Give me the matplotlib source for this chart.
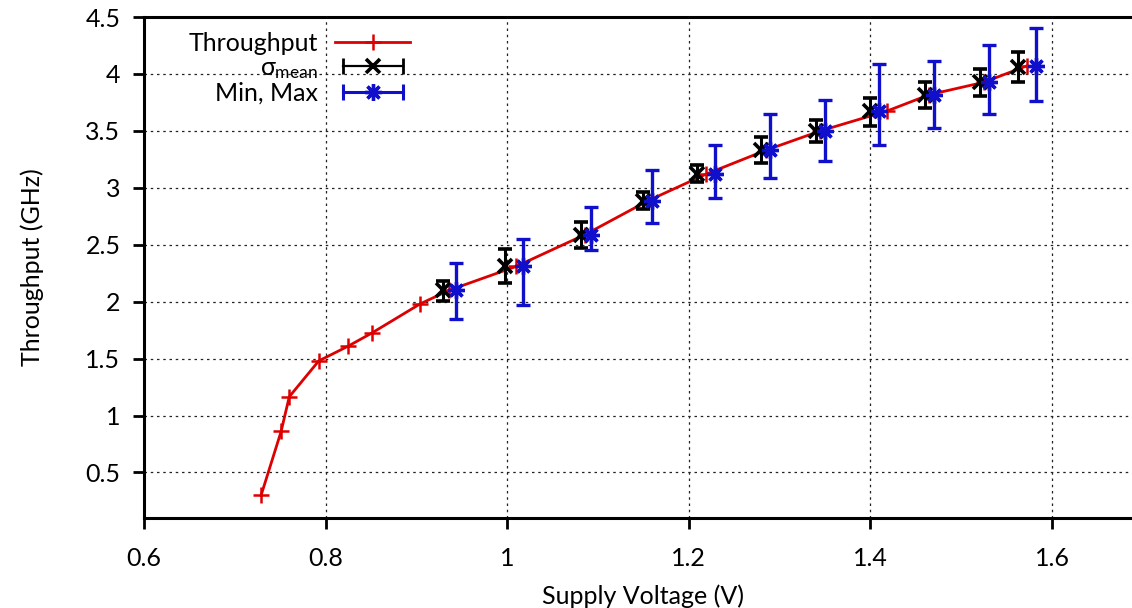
import matplotlib
matplotlib.use("Agg")
import matplotlib.pyplot as plt
from matplotlib.lines import Line2D
from matplotlib.legend_handler import HandlerLine2D, HandlerTuple
from matplotlib.ticker import FuncFormatter

plt.rcParams["font.family"] = ["Lato", "DejaVu Sans"]
plt.rcParams["mathtext.fontset"] = "custom"
plt.rcParams["mathtext.rm"] = "Lato"
plt.rcParams["mathtext.it"] = "Lato"

# red curve: supply voltage (V) vs throughput (GHz)
volt = [0.729, 0.751, 0.760, 0.7925, 0.825, 0.851, 0.904, 0.936, 1.010, 1.086,
        1.155, 1.219, 1.285, 1.345, 1.4185, 1.465, 1.525, 1.572]
thru = [0.30, 0.86, 1.165, 1.48, 1.61, 1.725, 1.98, 2.10, 2.31, 2.59,
        2.886, 3.12, 3.33, 3.50, 3.675, 3.818, 3.927, 4.07]

# sigma_mean points (black) with bar ends
sig_v = [0.9296, 0.9976, 1.0813, 1.150, 1.209, 1.280, 1.3396, 1.3995, 1.4597, 1.5203, 1.5625]
sig_mean = [2.103, 2.311, 2.588, 2.886, 3.12, 3.332, 3.50, 3.675, 3.818, 3.927, 4.065]
sig_lo = [2.009, 2.161, 2.47, 2.81, 3.048, 3.22, 3.402, 3.543, 3.70, 3.806, 3.93]
sig_hi = [2.185, 2.461, 2.697, 2.96, 3.20, 3.443, 3.598, 3.79, 3.927, 4.041, 4.196]

# min/max points (blue)
mm_v = [0.9436, 1.017, 1.092, 1.159, 1.229, 1.2896, 1.3495, 1.409, 1.470, 1.5302, 1.5823]
mm_mean = [2.10, 2.315, 2.588, 2.886, 3.12, 3.332, 3.50, 3.675, 3.818, 3.927, 4.07]
mm_min = [1.847, 1.973, 2.456, 2.687, 2.907, 3.085, 3.238, 3.376, 3.525, 3.645, 3.765]
mm_max = [2.344, 2.55, 2.83, 3.156, 3.376, 3.645, 3.771, 4.085, 4.117, 4.255, 4.40]

RED, BLUE = "#dd0000", "#1010cc"
STAR = (8, 2, 0)
FS = 18

fig = plt.figure(figsize=(11.32, 6.08), dpi=100)
ax = fig.add_axes([0.1272, 0.148, 0.8823, 0.824])

ax.plot(volt, thru, color=RED, lw=2, marker="+", ms=11, mew=1.8, zorder=3)

ax.errorbar(sig_v, sig_mean,
            yerr=[[m - lo for m, lo in zip(sig_mean, sig_lo)],
                  [hi - m for m, hi in zip(sig_mean, sig_hi)]],
            fmt="x", color="black", ms=10, mew=2.6, elinewidth=2.2,
            capsize=5, capthick=2.2, zorder=4)
ax.errorbar(mm_v, mm_mean,
            yerr=[[m - lo for m, lo in zip(mm_mean, mm_min)],
                  [hi - m for m, hi in zip(mm_mean, mm_max)]],
            fmt="none", ecolor=BLUE, elinewidth=2.4, capsize=5, capthick=2.4, zorder=5)
ax.plot(mm_v, mm_mean, ls="none", marker=STAR, ms=12, mew=2.4, color=BLUE, zorder=6)

ax.set_xlim(0.6, 1.7)
ax.set_ylim(0.1, 4.5)
ax.set_xticks([0.6, 0.8, 1.0, 1.2, 1.4, 1.6])
ax.set_yticks([0.5, 1, 1.5, 2, 2.5, 3, 3.5, 4, 4.5])
fmt = FuncFormatter(lambda v, p: f"{v:g}")
ax.xaxis.set_major_formatter(fmt)
ax.yaxis.set_major_formatter(fmt)
ax.tick_params(direction="out", length=8, width=2, labelsize=FS)
ax.tick_params(axis="x", pad=13)
ax.tick_params(axis="y", pad=9)
ax.tick_params(top=False, right=False)
for s in ["left", "bottom", "top"]:
    ax.spines[s].set_linewidth(2.2)
ax.spines["right"].set_visible(False)
ax.grid(True, color="#222222", lw=0.9, ls=(0, (2, 3)))
ax.set_axisbelow(True)

ax.set_xlabel("Supply Voltage (V)", fontsize=FS, labelpad=10)
ax.set_ylabel("Throughput (GHz)", fontsize=FS, labelpad=30)

# gnuplot-style legend: label text first, horizontal bars with caps
h_red = Line2D([], [], color=RED, lw=2, marker="+", ms=11, mew=1.8)
cap_k = Line2D([], [], color="black", lw=1.6, marker="|", ms=11, mew=2)
pt_k = Line2D([], [], color="black", ls="none", marker="x", ms=10, mew=2.6)
cap_b = Line2D([], [], color=BLUE, lw=2.2, marker="|", ms=11, mew=2.2)
pt_b = Line2D([], [], color=BLUE, ls="none", marker=STAR, ms=12, mew=2.4)
ax.legend([h_red, (cap_k, pt_k), (cap_b, pt_b)],
          ["Throughput", r"$\sigma_{\mathrm{mean}}$", "Min, Max"],
          handler_map={cap_k: HandlerLine2D(numpoints=2),
                       cap_b: HandlerLine2D(numpoints=2),
                       tuple: HandlerTuple(ndivide=1, pad=0)},
          loc="upper right", bbox_to_anchor=(0.284, 1.006), frameon=False,
          markerfirst=False, fontsize=FS, handlelength=3.0, handletextpad=0.7,
          labelspacing=0.05, borderpad=0.2)

fig.savefig("out.png", dpi=100)
